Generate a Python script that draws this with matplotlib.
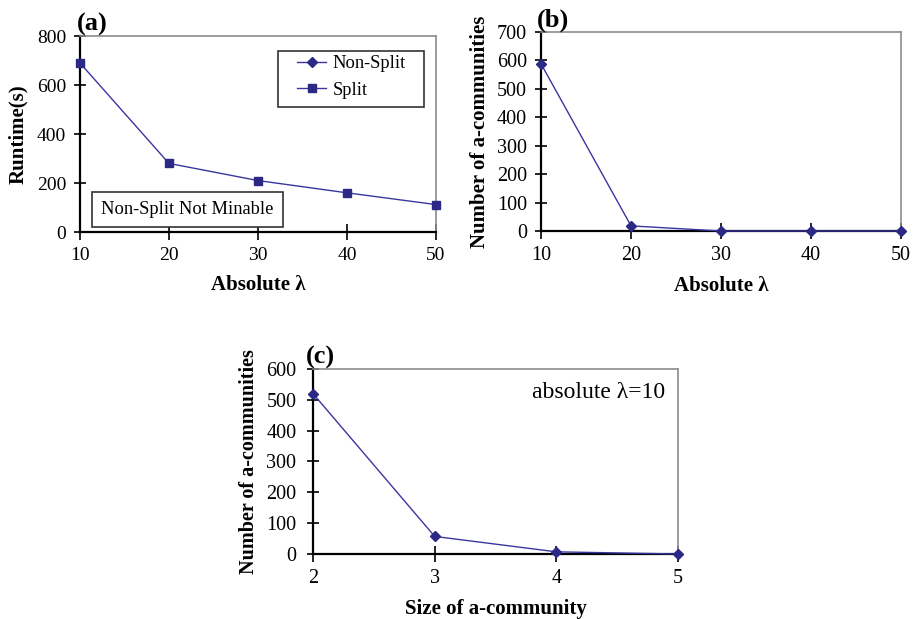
import matplotlib
matplotlib.use("Agg")
import matplotlib.pyplot as plt
from matplotlib.lines import Line2D
from matplotlib.patches import Rectangle

plt.rcParams['font.family'] = ['Liberation Serif', 'DejaVu Serif']

# runtime vs absolute lambda (split mining only)
lam = [10, 20, 30, 40, 50]
runtime_split = [690, 280, 210, 160, 112]

# number of a-communities vs absolute lambda
n_comm_lam = [588, 18, 0, 0, 0]

# number of a-communities by size, absolute lambda = 10
comm_size = [2, 3, 4, 5]
n_comm_size = [520, 57, 7, 0]

LINE = '#3a36a0'
MARK = '#2b2886'
LAB = 15


def style_axes(ax, fs, ypad=5.5):
    for s in ('top', 'right'):
        ax.spines[s].set_color('#8c8c8c')
        ax.spines[s].set_linewidth(1.2)
    for s in ('left', 'bottom'):
        ax.spines[s].set_color('black')
        ax.spines[s].set_linewidth(1.6)
    ax.tick_params(axis='x', direction='inout', length=11, width=1.2, labelsize=fs, pad=5)
    ax.tick_params(axis='y', direction='inout', length=9, width=1.2, labelsize=fs, pad=ypad)


fig = plt.figure(figsize=(9.15, 6.19), dpi=100)

# (a)
ax1 = fig.add_axes([0.0874, 0.6252, 0.389, 0.3166])
ax1.plot(lam, runtime_split, color=LINE, lw=1.0, marker='s', ms=5.5,
         mfc=MARK, mec=MARK, clip_on=False, zorder=3)
ax1.set_xlim(10, 50)
ax1.set_ylim(0, 800)
ax1.set_xticks(lam)
ax1.set_yticks([0, 200, 400, 600, 800])
style_axes(ax1, 14)
ax1.set_xlabel('Absolute λ', fontsize=LAB, fontweight='bold', labelpad=8)
ax1.set_ylabel('Runtime(s)', fontsize=LAB, fontweight='bold', labelpad=6)
ax1.text(-0.01, 1.0, '(a)', transform=ax1.transAxes, fontsize=19,
         fontweight='bold', va='bottom', ha='left')

# legend box drawn separately so its padding can be set per side
ax1.add_patch(Rectangle((0.556, 0.64), 0.41, 0.285, transform=ax1.transAxes,
                        fc='white', ec='#333333', lw=1.2, zorder=4))
handles = [
    Line2D([], [], color=LINE, lw=1.0, marker='D', ms=5, mfc=MARK, mec=MARK),
    Line2D([], [], color=LINE, lw=1.0, marker='s', ms=5.5, mfc=MARK, mec=MARK),
]
leg = ax1.legend(handles, ['Non-Split', 'Split'], loc='upper left',
                 bbox_to_anchor=(0.6, 0.92), fontsize=13.3, frameon=False,
                 handlelength=1.55, borderpad=0.2, labelspacing=0.5,
                 handletextpad=0.35, borderaxespad=0)
leg.set_zorder(5)
ax1.text(0.059, 0.115, 'Non-Split Not Minable', transform=ax1.transAxes,
         fontsize=13.3, va='center', ha='left',
         bbox=dict(boxstyle='square,pad=0.5', fc='white', ec='#333333', lw=1.2))

# (b)
ax2 = fig.add_axes([0.5913, 0.6268, 0.3934, 0.3215])
ax2.plot(lam, n_comm_lam, color=LINE, lw=1.0, marker='D', ms=5,
         mfc=MARK, mec=MARK, clip_on=False, zorder=3)
ax2.set_xlim(10, 50)
ax2.set_ylim(0, 700)
ax2.set_xticks(lam)
ax2.set_yticks(range(0, 701, 100))
style_axes(ax2, 14.5)
ax2.set_xlabel('Absolute λ', fontsize=LAB, fontweight='bold', labelpad=8)
ax2.set_ylabel('Number of a-communities', fontsize=LAB, fontweight='bold', labelpad=5)
ax2.text(-0.012, 1.0, '(b)', transform=ax2.transAxes, fontsize=19,
         fontweight='bold', va='bottom', ha='left')

# (c)
ax3 = fig.add_axes([0.3421, 0.105, 0.399, 0.2989])
ax3.plot(comm_size, n_comm_size, color=LINE, lw=1.0, marker='D', ms=5,
         mfc=MARK, mec=MARK, clip_on=False, zorder=3)
ax3.set_xlim(2, 5)
ax3.set_ylim(0, 600)
ax3.set_xticks(comm_size)
ax3.set_yticks(range(0, 601, 100))
style_axes(ax3, 14.5, ypad=7.5)
ax3.set_xlabel('Size of a-community', fontsize=LAB, fontweight='bold', labelpad=8)
ax3.set_ylabel('Number of a-communities', fontsize=14.5, fontweight='bold', labelpad=5)
ax3.text(-0.02, 1.0, '(c)', transform=ax3.transAxes, fontsize=19,
         fontweight='bold', va='bottom', ha='left')
ax3.text(0.965, 0.93, 'absolute λ=10', transform=ax3.transAxes, fontsize=17,
         va='top', ha='right')

fig.savefig('out.png', dpi=100, facecolor='white')
